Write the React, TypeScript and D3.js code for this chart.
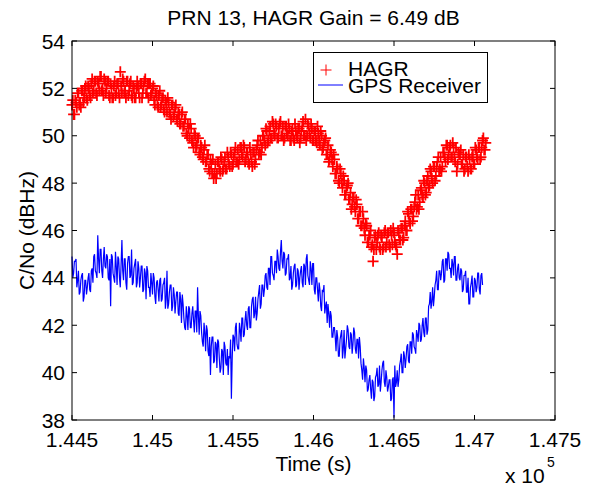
import React from "react";
import * as d3 from "d3";

// Time axis: samples every 10 s from 144500 s; the "_B" arrays are the readings 5 s after each sample
const T0 = 144500;
const DT = 10;
const HALF = 5;

const HAGR = [
  51.3, 50.9, 51.5, 51.2, 51.8, 51.4,
  51.9, 51.4, 52.0, 51.6, 52.1, 51.7, 52.2, 51.8, 52.3, 51.8, 52.3, 51.9, 52.5, 52.0,
  52.4, 51.8, 52.3, 51.7, 52.2, 51.6,
  52.1, 51.7, 52.2, 51.8, 52.7, 51.8, 52.3, 51.9,
  52.3, 51.7, 52.2, 51.7, 52.1, 51.6, 52.0,
  52.1, 51.6, 52.2, 51.8, 52.3, 51.8, 52.2,
  52.2, 51.7, 52.0, 51.5, 51.8, 51.3,
  51.7, 51.2, 51.6, 51.1, 51.5, 51.0, 51.4, 50.9,
  51.3, 50.8, 51.2, 50.7, 51.0, 50.5,
  50.9, 50.4, 50.7, 50.1, 50.5, 49.9, 50.3, 49.7,
  50.1, 49.5, 49.9, 49.3, 49.6, 49.1,
  49.4, 48.9, 49.2, 48.6, 49.0, 48.4, 48.2,
  48.8, 48.4, 48.9, 48.5, 49.0, 48.6, 49.1, 48.6,
  49.1, 48.7, 49.2, 48.8, 49.3, 48.9, 49.4, 49.0, 49.5, 49.1,
  49.5, 49.0, 49.3, 48.8, 49.2, 48.7,
  49.3, 49.0, 49.6, 49.2, 49.8, 49.5, 50.0,
  49.6, 50.2, 49.8, 50.4, 49.9, 50.5,
  50.0, 50.4, 49.9, 50.5, 50.0, 50.4, 49.9, 50.4, 50.0,
  50.3, 49.8, 50.3, 49.8, 50.2, 49.9,
  50.3, 49.9, 50.4, 50.0, 50.7, 50.0,
  50.4, 49.9, 50.3, 49.8, 50.2, 49.7, 50.1, 49.6,
  50.0, 49.5, 49.8, 49.2, 49.6, 49.0,
  49.3, 48.7, 49.0, 48.4, 48.6, 48.0,
  48.4, 47.8, 48.1, 47.5, 47.9, 47.3, 47.6,
  47.1, 47.4, 46.8, 47.1, 46.5, 46.8,
  46.2, 46.5, 45.8, 46.2, 45.5, 45.8,
  45.3, 44.7, 45.7, 45.2, 45.8, 45.3,
  45.8, 45.2, 45.9, 45.3, 45.9, 45.4, 46.0,
  45.4, 45.9, 45.4, 45.0, 45.9, 45.6,
  46.1, 45.7, 46.4, 46.0, 46.7, 46.3,
  46.9, 46.6, 47.2, 46.9, 47.5, 47.2,
  47.8, 47.4, 48.0, 47.6, 48.3, 47.9,
  48.5, 48.0, 48.7, 48.3, 48.9, 48.5, 49.1,
  48.7, 49.3, 48.9, 49.6, 49.2,
  49.6, 49.1, 49.5, 48.9, 48.5, 49.3, 49.2,
  48.8, 49.2, 48.6, 49.1, 48.5,
  49.0, 48.6, 49.2, 48.8, 49.4, 49.0,
  49.5, 49.1, 49.8, 49.4, 49.7,
];

const HAGR_B = [
  51.5, 50.9, 51.4, 51.8, 51.3, 51.2, 51.9, 51.6, 52.1, 51.5,
  52.0, 51.6, 52.4, 51.9, 52.3, 51.7, 52.2, 52.5, 51.9, 51.7,
  52.3, 52.0, 52.3, 51.6, 52.0, 51.6, 52.3, 51.8, 52.2, 51.6,
  52.1, 52.4, 51.8, 51.6, 52.3, 51.9, 52.3, 51.6, 52.0, 51.6,
  52.3, 51.8, 52.2, 51.6, 52.1, 52.4, 51.8, 51.6, 52.2, 51.8,
  52.1, 51.3, 51.7, 51.2, 51.9, 51.3, 51.6, 51.0, 51.4, 51.6,
  51.0, 50.7, 51.3, 50.9, 51.3, 50.6, 50.9, 50.5, 51.0, 50.4,
  50.7, 50.0, 50.3, 50.5, 49.8, 49.5, 50.0, 49.6, 49.9, 49.2,
  49.5, 49.0, 49.6, 48.9, 49.2, 48.5, 48.8, 49.0, 48.4, 48.2,
  48.9, 48.6, 49.1, 48.5, 48.9, 48.6, 49.3, 48.8, 49.3, 48.7,
  49.1, 49.5, 48.9, 48.8, 49.5, 49.2, 49.6, 48.9, 49.3, 48.9,
  49.5, 48.9, 49.3, 48.8, 49.4, 49.8, 49.3, 49.2, 50.0, 49.8,
  50.3, 49.7, 50.2, 49.9, 50.6, 50.1, 50.5, 49.9, 50.3, 50.6,
  50.0, 49.8, 50.4, 50.1, 50.5, 49.8, 50.2, 49.9, 50.5, 50.0,
  50.3, 49.7, 50.2, 50.6, 50.0, 49.8, 50.5, 50.1, 50.5, 49.8,
  50.2, 49.8, 50.4, 49.8, 50.2, 49.4, 49.7, 49.9, 49.2, 48.9,
  49.4, 49.0, 49.2, 48.4, 48.7, 48.1, 48.6, 48.0, 48.3, 47.5,
  47.8, 48.0, 47.3, 46.9, 47.4, 47.0, 47.3, 46.5, 46.8, 46.2,
  46.8, 46.1, 46.3, 45.5, 45.8, 46.0, 45.4, 45.2, 45.8, 45.5,
  45.9, 45.2, 45.7, 45.3, 46.0, 45.5, 45.9, 45.3, 45.8, 46.1,
  45.5, 45.3, 46.0, 45.6, 46.1, 45.6, 46.2, 46.0, 46.8, 46.4,
  46.9, 46.4, 47.0, 47.5, 47.0, 46.9, 47.7, 47.5, 48.1, 47.5,
  48.1, 47.8, 48.6, 48.2, 48.7, 48.1, 48.7, 49.1, 48.6, 48.5,
  49.3, 49.1, 49.6, 49.0, 49.5, 49.1, 49.7, 49.1, 49.5, 48.8,
  49.2, 49.4, 48.8, 48.5, 49.1, 48.7, 49.2, 48.6, 49.1, 48.8,
  49.5, 49.1, 49.5, 49.0, 49.5, 49.9, 49.4,
];

const GPS = [
  44.9, 44.2, 44.7, 43.6, 44.3,
  43.4, 44.1, 43.0,
  43.9, 43.3, 44.0, 43.5,
  44.3, 43.8, 45.0, 44.2, 45.8,
  44.2, 45.2, 44.0, 45.3, 44.4, 44.9, 43.9, 42.8,
  44.9, 44.0, 45.1, 43.7, 44.8, 43.6, 45.6, 43.9,
  44.8, 43.5, 44.9, 44.0, 45.2, 43.8, 44.6, 43.6,
  44.7, 43.6, 44.5, 43.4, 44.4, 43.1, 44.3, 43.6,
  44.2, 43.3, 44.0, 42.9, 43.9, 43.0, 44.0, 43.1, 43.8,
  42.7, 44.3, 42.9, 43.7, 42.6, 43.6, 42.5, 43.4,
  42.5, 43.4, 42.1, 42.9, 41.9, 42.8,
  41.8, 42.7, 41.9, 42.8, 41.7, 42.6, 43.6,
  41.6, 42.4, 41.3, 42.1, 40.9, 41.8,
  40.7, 39.9, 41.5, 40.4, 41.3, 40.2,
  41.3, 40.0, 41.0, 39.9, 41.1, 40.3,
  39.9, 40.6, 38.9, 41.6, 40.9, 42.1,
  41.0, 42.1, 41.3, 42.3, 41.6, 42.6, 41.8,
  42.8, 41.9, 43.1, 42.3, 43.2, 42.5,
  43.4, 42.7, 43.7, 43.2, 44.1, 43.6,
  44.4, 43.7, 44.9, 44.1,
  44.7, 44.2, 44.9, 44.3, 45.6,
  44.4, 45.0, 44.2, 44.8, 43.9, 44.5, 43.7,
  44.5, 43.6, 44.4, 43.5, 44.3, 43.8,
  44.6, 43.7, 45.0, 43.9, 44.7,
  43.7, 44.6, 43.3, 44.0, 43.0,
  43.5, 42.6, 43.4, 42.5, 43.0,
  42.9, 41.9, 42.4, 41.5, 41.9, 40.9, 41.5, 40.7,
  41.6, 40.6, 41.8, 41.0, 42.0, 41.1, 41.7,
  40.8, 41.9, 41.0, 41.4,
  40.6, 41.1, 40.1, 40.6, 39.6, 40.1,
  39.3, 39.9, 38.9, 39.6,
  39.0, 39.9, 39.4, 40.3, 39.6, 40.4,
  39.6, 40.1, 39.2, 39.7, 38.8,
  39.7, 38.1, 39.4, 40.1, 39.7, 40.5,
  40.0, 40.9, 40.2, 41.1, 40.5, 41.3,
  40.8, 41.6, 41.0, 41.8, 41.3, 42.0,
  41.4, 42.3, 41.5, 42.3,
  41.8, 42.9, 42.7, 43.6,
  43.2, 43.9, 43.5, 44.3, 43.9, 44.7,
  43.8, 44.8, 44.3, 45.0, 44.4,
  44.8, 44.1, 44.9, 43.9, 44.6, 43.9,
  44.3, 43.5, 44.1, 43.4, 44.0, 42.9,
  43.8, 43.2, 44.0, 43.4, 44.2, 43.5, 44.1, 43.7,
];

const GPS_B = [
  44.0, 44.7, 44.8, 43.9, 43.3, 43.9, 44.2, 43.2, 43.9, 43.6,
  44.2, 43.4, 44.4, 44.9, 44.3, 44.0, 44.8, 45.2, 44.3, 44.8,
  44.5, 45.0, 44.0, 44.8, 45.0, 44.2, 43.8, 44.5, 44.9, 44.0,
  44.6, 44.3, 44.8, 43.8, 44.6, 44.9, 44.1, 43.7, 44.4, 44.8,
  43.8, 44.4, 44.0, 44.5, 43.5, 44.2, 44.5, 43.6, 43.2, 43.8,
  44.2, 43.2, 43.8, 43.5, 43.9, 43.0, 43.7, 44.0, 43.1, 42.7,
  43.4, 43.7, 42.8, 43.3, 43.0, 43.4, 42.4, 43.1, 43.3, 42.3,
  41.8, 42.4, 42.8, 41.9, 42.5, 42.2, 42.6, 41.7, 42.4, 42.6,
  41.7, 41.1, 41.7, 42.0, 40.9, 41.5, 41.1, 41.5, 40.5, 41.2,
  41.4, 40.6, 40.2, 40.9, 41.3, 40.4, 41.0, 40.7, 41.4, 40.6,
  41.5, 41.9, 41.2, 41.0, 41.8, 42.3, 41.5, 42.2, 42.0, 42.7,
  41.9, 42.8, 43.2, 42.5, 42.2, 43.1, 43.7, 42.9, 43.7, 43.5,
  44.2, 43.5, 44.4, 44.9, 44.2, 43.9, 44.7, 45.2, 44.4, 45.1,
  44.7, 45.1, 44.1, 44.8, 45.0, 44.0, 43.5, 44.2, 44.6, 43.7,
  44.3, 44.0, 44.5, 43.6, 44.5, 44.8, 44.1, 43.7, 44.4, 44.6,
  43.5, 44.0, 43.5, 43.8, 42.8, 43.5, 43.7, 42.8, 42.1, 42.5,
  42.6, 41.5, 41.9, 41.5, 41.8, 40.7, 41.4, 41.8, 41.0, 40.6,
  41.4, 41.8, 41.0, 41.6, 41.2, 41.7, 40.8, 41.4, 41.5, 40.4,
  39.7, 40.2, 40.3, 39.2, 39.7, 39.3, 39.7, 38.8, 39.8, 40.2,
  39.5, 39.2, 40.1, 40.5, 39.4, 39.8, 39.4, 39.7, 38.9, 39.8,
  40.3, 39.6, 39.4, 40.3, 40.8, 40.0, 40.7, 40.6, 41.2, 40.4,
  41.3, 41.7, 41.1, 40.8, 41.6, 42.1, 41.3, 42.0, 41.7, 42.3,
  41.6, 42.8, 43.4, 43.0, 42.8, 43.7, 44.3, 43.5, 44.3, 44.2,
  44.8, 43.9, 44.8, 45.1, 44.4, 44.0, 44.6, 44.9, 43.9, 44.4,
  44.0, 44.4, 43.4, 44.1, 44.3, 43.4, 42.9, 43.6, 44.1, 43.2,
  43.9, 43.6, 44.2, 43.3, 44.2,
];

const X_TICKS = [144500, 145000, 145500, 146000, 146500, 147000, 147500];
const X_TICK_LABELS = ["1.445", "1.45", "1.455", "1.46", "1.465", "1.47", "1.475"];
const Y_TICKS = [38, 40, 42, 44, 46, 48, 50, 52, 54];

const TITLE = "PRN 13, HAGR Gain = 6.49 dB";
const X_LABEL = "Time (s)";
const Y_LABEL = "C/No (dBHz)";
const LEGEND = ["HAGR", "GPS Receiver"];

const W = 592, H = 487;
const L = 72, R = 555, T = 41, B = 420;
const FONT = "'Liberation Sans', Arial, sans-serif";

function merge(a: number[], b: number[]): [number, number][] {
  const pts: [number, number][] = [];
  a.forEach((v, i) => pts.push([T0 + i * DT, v]));
  b.forEach((v, i) => pts.push([T0 + i * DT + HALF, v]));
  return pts.sort((p, q) => p[0] - q[0]);
}

export default function App() {
  const x = d3.scaleLinear().domain([144500, 147500]).range([L, R]);
  const y = d3.scaleLinear().domain([38, 54]).range([B, T]);

  const gpsPts = merge(GPS, GPS_B);
  const hagrPts = merge(HAGR, HAGR_B);

  const line = d3.line<[number, number]>().x(d => x(d[0])).y(d => y(d[1]));
  const m = 5.5;
  const plusPath = hagrPts
    .map(([t, v]) => {
      const px = x(t), py = y(v);
      return `M${px - m},${py}H${px + m}M${px},${py - m}V${py + m}`;
    })
    .join("");

  const tickLen = 5;

  return (
    <svg width={W} height={H} style={{ position: "absolute", left: 0, top: 0, background: "#fff" }}
      fontFamily={FONT}>
      <rect x={0} y={0} width={W} height={H} fill="#fff" />
      <text x={(L + R) / 2} y={25} textAnchor="middle" fontSize={21} fill="#000">{TITLE}</text>

      <path d={plusPath} stroke="#ff0000" strokeWidth={1.8} fill="none" />
      <path d={line(gpsPts) || ""} stroke="#0000ff" strokeWidth={1.2} fill="none" />

      <rect x={L} y={T} width={R - L} height={B - T} fill="none" stroke="#000" strokeWidth={1} />

      {X_TICKS.map((t, i) => (
        <g key={"xt" + i}>
          <line x1={x(t)} x2={x(t)} y1={B} y2={B - tickLen} stroke="#000" />
          <line x1={x(t)} x2={x(t)} y1={T} y2={T + tickLen} stroke="#000" />
          <text x={x(t)} y={446.5} textAnchor="middle" fontSize={21}>{X_TICK_LABELS[i]}</text>
        </g>
      ))}
      {Y_TICKS.map((v, i) => (
        <g key={"yt" + i}>
          <line x1={L} x2={L + tickLen} y1={y(v)} y2={y(v)} stroke="#000" />
          <line x1={R} x2={R - tickLen} y1={y(v)} y2={y(v)} stroke="#000" />
          <text x={65} y={y(v) + 7.5} textAnchor="end" fontSize={21}>{v}</text>
        </g>
      ))}

      <text x={(L + R) / 2} y={471} textAnchor="middle" fontSize={21}>{X_LABEL}</text>
      <text transform={`translate(34,${(T + B) / 2}) rotate(-90)`} textAnchor="middle" fontSize={21}>{Y_LABEL}</text>

      <text x={505} y={483} fontSize={21}>x 10</text>
      <text x={547} y={467} fontSize={14}>5</text>

      <rect x={313.5} y={52.5} width={174} height={50} fill="#fff" stroke="#000" strokeWidth={1} />
      <path d={`M${326 - 5.5},70H${326 + 5.5}M326,${70 - 5.5}V${70 + 5.5}`} stroke="#ff0000" strokeWidth={1} />
      <text x={348} y={76} fontSize={21}>{LEGEND[0]}</text>
      <line x1={318} x2={343} y1={85} y2={85} stroke="#0000ff" strokeWidth={1} />
      <text x={348} y={93} fontSize={21}>{LEGEND[1]}</text>
    </svg>
  );
}
